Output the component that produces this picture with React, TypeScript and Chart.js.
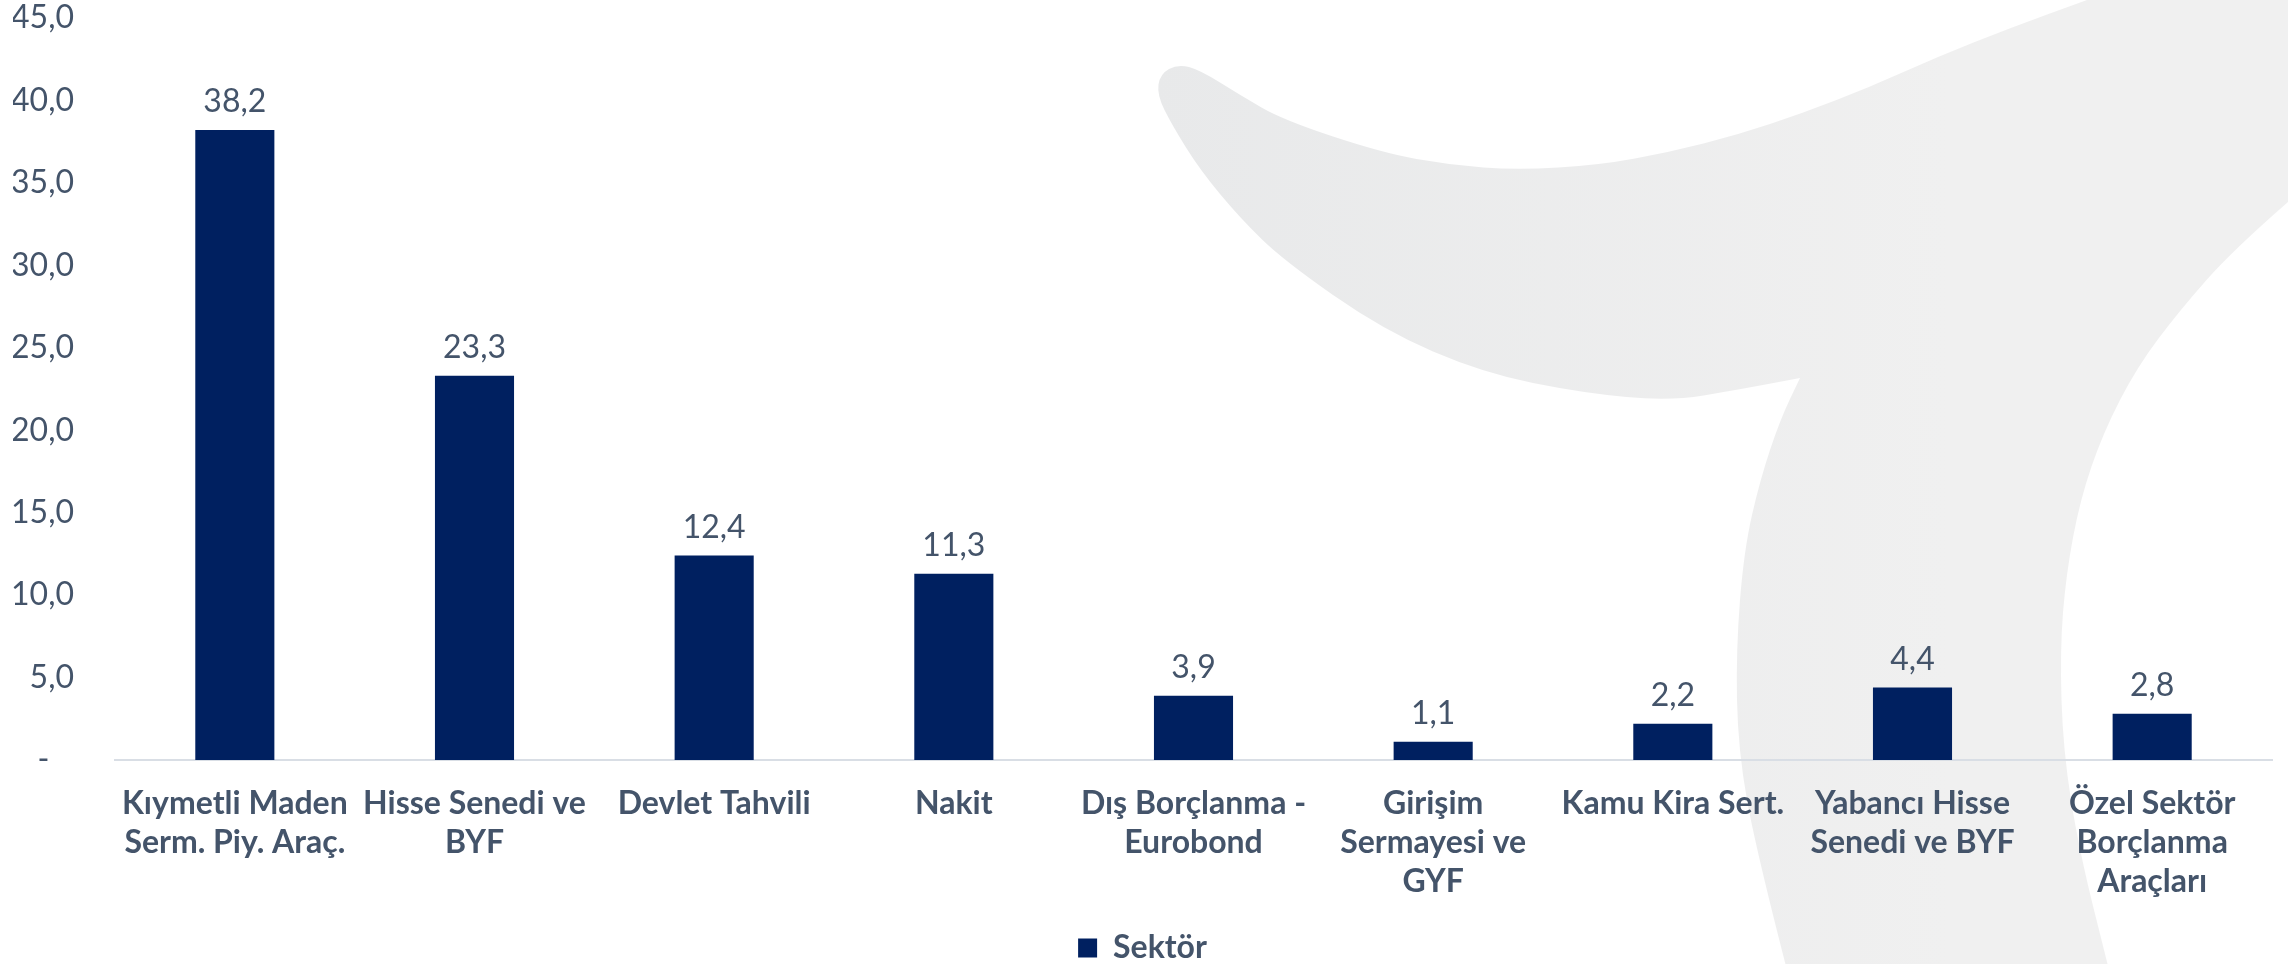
import React, { useEffect, useRef } from "react";
import { Chart, registerables } from "chart.js";

Chart.register(...registerables);

// ---- data ----
const categories: (string | string[])[] = [
  ["Kıymetli Maden", "Serm. Piy. Araç."],
  ["Hisse Senedi ve", "BYF"],
  "Devlet Tahvili",
  "Nakit",
  ["Dış Borçlanma -", "Eurobond"],
  ["Girişim", "Sermayesi ve", "GYF"],
  "Kamu Kira Sert.",
  ["Yabancı Hisse", "Senedi ve BYF"],
  ["Özel Sektör", "Borçlanma", "Araçları"],
];
const sektorValues = [38.2, 23.3, 12.4, 11.3, 3.9, 1.1, 2.2, 4.4, 2.8];
const seriesName = "Sektör";
const yAxisMin = 0;
const yAxisMax = 45;
const yAxisStep = 5;

// ---- styles ----
const TEXT = "#44546A";
const BAR = "#002060";
const AXIS_LINE = "#D9DEE5";
const FONT = "Lato, 'Open Sans', sans-serif";
const W = 2288;
const H = 964;
const CANVAS_H = 974; // legend's built-in bottom gap falls below the visible page

const fmt = (v: number) => v.toFixed(1).replace(".", ",");

function smooth(ctx: CanvasRenderingContext2D, pts: number[][], start: boolean) {
  if (start) ctx.moveTo(pts[0][0], pts[0][1]);
  else ctx.lineTo(pts[0][0], pts[0][1]);
  for (let i = 1; i < pts.length - 1; i++) {
    const mx = (pts[i][0] + pts[i + 1][0]) / 2;
    const my = (pts[i][1] + pts[i + 1][1]) / 2;
    ctx.quadraticCurveTo(pts[i][0], pts[i][1], mx, my);
  }
  const last = pts[pts.length - 1];
  ctx.lineTo(last[0], last[1]);
}

const watermarkPlugin = {
  id: "watermark",
  beforeDraw(chart: any) {
    const ctx: CanvasRenderingContext2D = chart.ctx;
    ctx.save();
    const g = ctx.createLinearGradient(1150, 0, 1950, 0);
    g.addColorStop(0, "#e8e9ea");
    g.addColorStop(1, "#f0f0f0");
    ctx.fillStyle = g;
    ctx.beginPath();
    smooth(
      ctx,
      [
        [1800, 378], [1737, 390], [1670, 401], [1583, 393], [1483, 373], [1383, 330],
        [1283, 260], [1240, 218], [1200, 170], [1172, 125], [1157, 95], [1160, 74],
        [1178, 64], [1200, 70], [1240, 95], [1283, 120], [1383, 153], [1450, 165],
        [1517, 170], [1600, 165], [1670, 152], [1737, 135], [1803, 113], [1870, 87],
        [1937, 57], [2010, 28], [2087, 0],
      ],
      true
    );
    ctx.lineTo(2288, 0);
    smooth(
      ctx,
      [
        [2288, 202], [2233, 250], [2180, 310], [2137, 367], [2103, 433], [2080, 500],
        [2066, 575], [2060, 650], [2063, 750], [2079, 850], [2110, 974],
      ],
      false
    );
    smooth(
      ctx,
      [
        [1788, 974], [1756, 850], [1738, 750], [1736, 650], [1744, 550], [1760, 480],
        [1780, 420], [1800, 378],
      ],
      false
    );
    ctx.closePath();
    ctx.fill();
    ctx.restore();
  },
};

const valueLabelPlugin = {
  id: "valueLabels",
  afterDatasetsDraw(chart: any) {
    const ctx: CanvasRenderingContext2D = chart.ctx;
    ctx.save();
    ctx.font = `32px ${FONT}`;
    ctx.fillStyle = TEXT;
    ctx.textAlign = "center";
    ctx.textBaseline = "middle";
    chart.data.datasets.forEach((ds: any, di: number) => {
      const meta = chart.getDatasetMeta(di);
      meta.data.forEach((el: any, i: number) => {
        ctx.fillText(fmt(ds.data[i]), el.x, el.y - 28);
      });
    });
    ctx.restore();
  },
};

export default function App() {
  const ref = useRef<HTMLCanvasElement | null>(null);

  useEffect(() => {
    if (!ref.current) return;
    const chart = new Chart(ref.current, {
      type: "bar",
      data: {
        labels: categories,
        datasets: [
          {
            label: seriesName,
            data: sektorValues,
            backgroundColor: BAR,
            borderWidth: 0,
            categoryPercentage: 1,
            barPercentage: 0.33,
          },
        ],
      },
      options: {
        responsive: false,
        animation: false,
        devicePixelRatio: 1,
        layout: { padding: { left: 13, right: 16, top: 18, bottom: 0 } },
        plugins: {
          tooltip: { enabled: false },
          legend: {
            position: "bottom",
            labels: {
              color: TEXT,
              font: { family: FONT, size: 32, weight: "bold", lineHeight: 1 },
              boxWidth: 19,
              boxHeight: 19,
              padding: 3,
            },
          },
        },
        scales: {
          x: {
            grid: { display: false, drawTicks: true, tickLength: 24 },
            border: { display: true, color: AXIS_LINE, width: 2 },
            ticks: {
              color: TEXT,
              font: { family: FONT, size: 32, weight: "bold", lineHeight: 1.22 },
              padding: 0,
              maxRotation: 0,
              autoSkip: false,
            },
            afterFit: (scale: any) => {
              scale.height = 169;
            },
          },
          y: {
            min: yAxisMin,
            max: yAxisMax,
            grid: { display: false, drawTicks: true, tickLength: 41 },
            border: { display: false },
            ticks: {
              stepSize: yAxisStep,
              color: TEXT,
              font: { family: FONT, size: 32, lineHeight: 1 },
              padding: 0,
              callback: (v: any) => (Number(v) === 0 ? "-   " : fmt(Number(v))),
            },
            afterFit: (scale: any) => {
              scale.width = 102;
            },
          },
        },
      },
      plugins: [watermarkPlugin, valueLabelPlugin],
    });
    return () => chart.destroy();
  }, []);

  return (
    <div
      style={{
        position: "absolute",
        left: 0,
        top: 0,
        width: W,
        height: H,
        overflow: "hidden",
        background: "#fff",
      }}
    >
      <canvas
        ref={ref}
        width={W}
        height={CANVAS_H}
        style={{ width: W, height: CANVAS_H, display: "block" }}
      />
    </div>
  );
}
